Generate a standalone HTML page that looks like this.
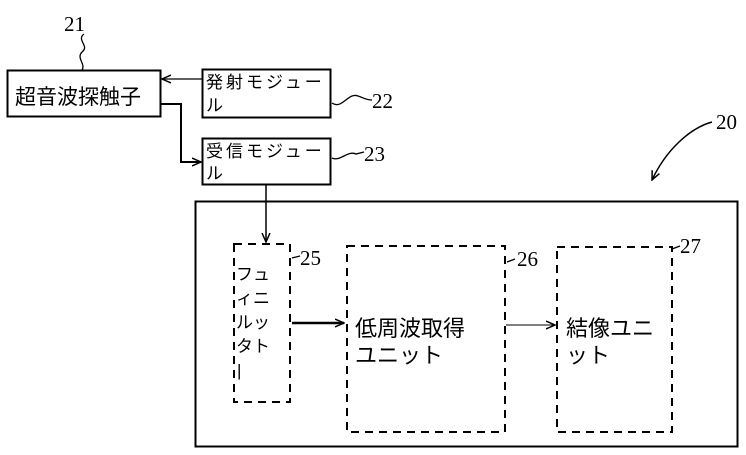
<!DOCTYPE html>
<html><head><meta charset="utf-8"><style>
body{margin:0;background:#fff;}
svg text{font-family:"Liberation Sans","Noto Sans CJK JP",sans-serif;fill:#000;}
.n{font-family:"Liberation Serif",serif;font-size:21px;}
</style></head><body>
<svg width="746" height="450" viewBox="0 0 746 450" xmlns="http://www.w3.org/2000/svg">
<defs><marker id="a" markerWidth="10" markerHeight="10" refX="9" refY="5" orient="auto" markerUnits="userSpaceOnUse"><path d="M0,1 L9,5 L0,9" fill="none" stroke="#000" stroke-width="1.5"/></marker></defs>
<g fill="none" stroke="#000">
<rect x="7.5" y="70.5" width="153" height="46" stroke-width="2"/>
<rect x="202.5" y="69.5" width="128" height="48" stroke-width="2"/>
<rect x="202.5" y="138.5" width="128" height="46" stroke-width="2"/>
<rect x="195.5" y="201.5" width="542" height="245" stroke-width="2"/>
<g stroke-dasharray="8,6" stroke-width="2">
<rect x="234" y="244" width="56" height="158"/>
<rect x="347" y="246" width="158" height="186"/>
<rect x="557" y="247" width="115" height="185"/>
</g>
<line x1="202" y1="79" x2="162" y2="79" stroke-width="1.2" marker-end="url(#a)"/>
<polyline points="161,104 181,104 181,162 201,162" stroke-width="2" marker-end="url(#a)"/>
<line x1="266" y1="185" x2="266" y2="242" stroke-width="1.5" marker-end="url(#a)"/>
<line x1="292" y1="323" x2="344" y2="323" stroke-width="2.5" marker-end="url(#a)"/>
<line x1="506" y1="325" x2="555" y2="325" stroke-width="1" marker-end="url(#a)"/>
<path d="M84,34 C76,40 90,46 82,52 C76,58 86,64 82,70" stroke-width="1.3"/>
<path d="M332,103 C342,110 348,92 358,96 C364,98 366,100 372,100" stroke-width="1.3"/>
<path d="M332,158 C340,162 348,150 356,154 L364,152" stroke-width="1.3"/>
<path d="M292,258 L300,256" stroke-width="1.3"/>
<path d="M507,262 L515,259" stroke-width="1.3"/>
<path d="M672,249 L680,246" stroke-width="1.3"/>
<path d="M712,122 C690,128 666,150 652,180" stroke-width="1.5" marker-end="url(#a)"/>
</g>
<text x="15" y="104" font-size="21">超音波探触子</text>
<text x="206" y="88" font-size="17" letter-spacing="3">発射モジュー</text>
<text x="206" y="111" font-size="17">ル</text>
<text x="206" y="157" font-size="17" letter-spacing="3">受信モジュー</text>
<text x="206" y="179" font-size="17">ル</text>
<g font-size="17">
<text x="236" y="280">フュ</text>
<text x="236" y="304">ィニ</text>
<text x="236" y="328">ルッ</text>
<text x="236" y="352">タト</text>
<text x="237" y="376">|</text>
</g>
<text x="355" y="336" font-size="22">低周波取得</text>
<text x="355" y="363" font-size="22">ユニット</text>
<text x="566" y="336" font-size="22">結像ユニ</text>
<text x="566" y="363" font-size="22">ット</text>
<text class="n" x="64" y="31">21</text>
<text class="n" x="372" y="108">22</text>
<text class="n" x="364" y="161">23</text>
<text class="n" x="300" y="265">25</text>
<text class="n" x="517" y="266">26</text>
<text class="n" x="680" y="253">27</text>
<text class="n" x="716" y="129">20</text>
</svg>
</body></html>
